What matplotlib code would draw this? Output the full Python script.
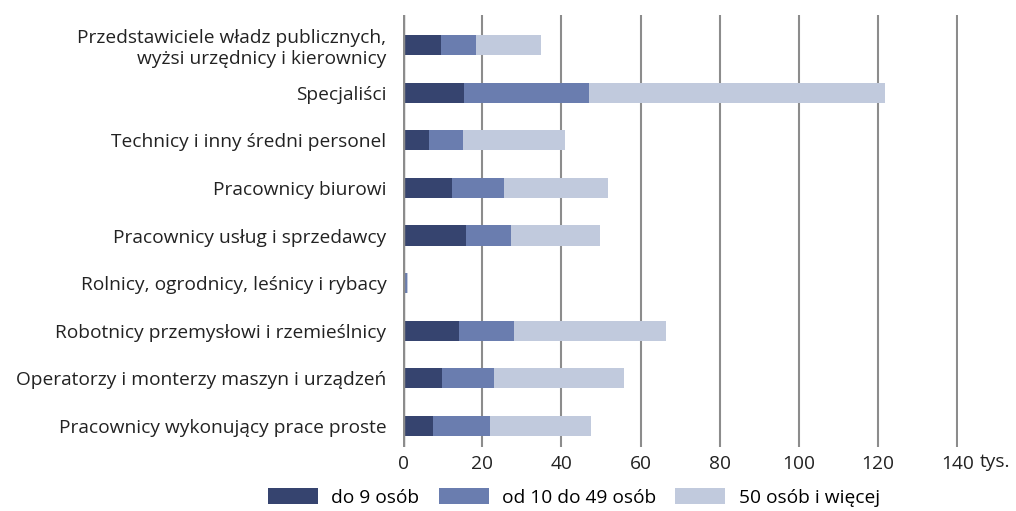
import matplotlib.pyplot as plt
import numpy as np

plt.rcParams['font.family'] = ['Open Sans', 'DejaVu Sans']

categories = [
    'Przedstawiciele władz publicznych,\nwyżsi urzędnicy i kierownicy',
    'Specjaliści',
    'Technicy i inny średni personel',
    'Pracownicy biurowi',
    'Pracownicy usług i sprzedawcy',
    'Rolnicy, ogrodnicy, leśnicy i rybacy',
    'Robotnicy przemysłowi i rzemieślnicy',
    'Operatorzy i monterzy maszyn i urządzeń',
    'Pracownicy wykonujący prace proste',
]
small = [9.6, 15.5, 6.6, 12.4, 15.9, 0.5, 14.1, 9.8, 7.6]       # do 9 osób
medium = [8.8, 31.6, 8.5, 13.1, 11.3, 0.4, 13.9, 13.1, 14.3]    # od 10 do 49 osób
large = [16.4, 74.6, 25.7, 26.2, 22.5, 0.4, 38.5, 32.8, 25.7]   # 50 osób i więcej
series_names = ['do 9 osób', 'od 10 do 49 osób', '50 osób i więcej']
colors = ['#36446f', '#6a7daf', '#c1cadd']
fs = 13.8

fig = plt.figure(figsize=(10.16, 5.11), dpi=100)
ax = fig.add_axes([0.3967, 0.125, 0.5466, 0.846])

y = np.arange(len(categories))
left = np.zeros(len(categories))
for vals, name, c in zip([small, medium, large], series_names, colors):
    ax.barh(y, vals, left=left, height=0.42, color=c, label=name, zorder=3)
    left += np.array(vals)

ax.set_xlim(0, 140.3)
ax.set_ylim(8.44, -0.63)
ax.set_xticks(range(0, 141, 20))
ax.set_yticks(y)
ax.set_yticklabels(categories, fontsize=fs, color='#222222', linespacing=1.25)
ax.tick_params(axis='y', length=0, pad=12)
ax.tick_params(axis='x', length=0, labelsize=fs, labelcolor='#222222', pad=6)
ax.grid(axis='x', color='#8c8c8c', linewidth=1.5, zorder=0)
for s in ['top', 'right', 'bottom', 'left']:
    ax.spines[s].set_visible(False)
ax.axvline(0, color='#8c8c8c', linewidth=2.5, zorder=4)
ax.annotate('tys.', xy=(140, 0), xycoords=('data', 'axes fraction'),
            xytext=(16, -4.5), textcoords='offset points', fontsize=fs,
            color='#222222', va='top', ha='left')

fig.legend(loc='lower center', bbox_to_anchor=(0.565, -0.025), ncol=3,
           frameon=False, fontsize=fs, handlelength=2.6, handleheight=0.95,
           columnspacing=1.0, handletextpad=0.7)

fig.savefig('out.png', dpi=100)
